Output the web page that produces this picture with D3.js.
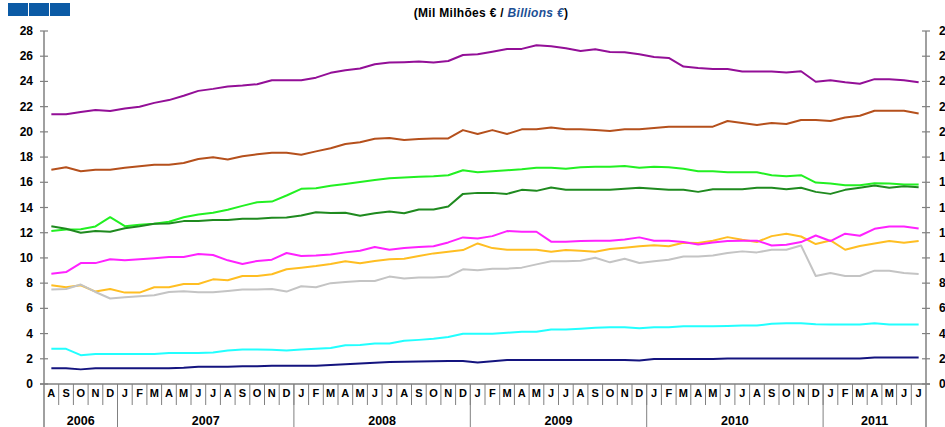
<!DOCTYPE html>
<html>
<head>
<meta charset="utf-8">
<script src="https://cdn.jsdelivr.net/npm/d3@7"></script>
<style>
  body { margin: 0; background: #fff; }
  text { font-family: "Liberation Sans", Arial, sans-serif; font-weight: bold; }
  .line { fill: none; stroke-width: 2; stroke-linejoin: round; }
</style>
</head>
<body>
<div id="chart"></div>
<script>
// month letters, Aug 2006 .. Jul 2011
var months = ["A","S","O","N","D",
  "J","F","M","A","M","J","J","A","S","O","N","D",
  "J","F","M","A","M","J","J","A","S","O","N","D",
  "J","F","M","A","M","J","J","A","S","O","N","D",
  "J","F","M","A","M","J","J","A","S","O","N","D",
  "J","F","M","A","M","J","J"];
var years = ["2006", "2007", "2008", "2009", "2010", "2011"];
var yearMonths = [5, 12, 12, 12, 12, 7];
var yTicks = [0, 2, 4, 6, 8, 10, 12, 14, 16, 18, 20, 22, 24, 26, 28];

// series values (billions of euro)
var purple = [21.4, 21.4, 21.57, 21.73, 21.65,
  21.86, 21.99, 22.3, 22.52, 22.86, 23.25, 23.41, 23.6, 23.67, 23.78, 24.1, 24.1,
  24.1, 24.3, 24.68, 24.89, 25.02, 25.36, 25.5, 25.53, 25.58, 25.5, 25.62, 26.1,
  26.15, 26.36, 26.58, 26.58, 26.87, 26.79, 26.63, 26.42, 26.55, 26.34, 26.31, 26.15,
  25.94, 25.86, 25.18, 25.07, 24.99, 24.99, 24.78, 24.78, 24.78, 24.7, 24.81, 23.97,
  24.1, 23.94, 23.81, 24.18, 24.18, 24.1, 23.94];
var brown = [17.0, 17.19, 16.87, 17.0, 17.0,
  17.16, 17.27, 17.4, 17.4, 17.53, 17.85, 17.98, 17.8, 18.06, 18.22, 18.35, 18.35,
  18.19, 18.45, 18.7, 19.04, 19.17, 19.46, 19.51, 19.35, 19.43, 19.48, 19.48, 20.14,
  19.83, 20.14, 19.83, 20.2, 20.2, 20.35, 20.2, 20.2, 20.14, 20.07, 20.2, 20.2,
  20.3, 20.41, 20.41, 20.41, 20.41, 20.86, 20.7, 20.54, 20.7, 20.62, 20.94, 20.94,
  20.86, 21.14, 21.28, 21.67, 21.67, 21.67, 21.46];
var lime = [12.13, 12.26, 12.28, 12.5, 13.23,
  12.52, 12.63, 12.71, 12.87, 13.23, 13.45, 13.58, 13.82, 14.13, 14.42, 14.47, 14.95,
  15.48, 15.53, 15.72, 15.87, 16.03, 16.19, 16.32, 16.37, 16.43, 16.48, 16.56, 16.95,
  16.8, 16.87, 16.95, 17.03, 17.16, 17.16, 17.08, 17.19, 17.24, 17.24, 17.3, 17.16,
  17.24, 17.19, 17.08, 16.87, 16.87, 16.8, 16.8, 16.8, 16.56, 16.48, 16.56, 15.98,
  15.9, 15.76, 15.76, 15.92, 15.9, 15.82, 15.82];
var darkGreen = [12.52, 12.31, 12.0, 12.13, 12.08,
  12.36, 12.52, 12.71, 12.73, 12.92, 12.92, 13.0, 13.0, 13.1, 13.1, 13.18, 13.21,
  13.37, 13.63, 13.57, 13.58, 13.34, 13.55, 13.68, 13.55, 13.84, 13.84, 14.08, 15.08,
  15.16, 15.16, 15.08, 15.4, 15.32, 15.58, 15.4, 15.4, 15.4, 15.4, 15.48, 15.56,
  15.48, 15.4, 15.4, 15.24, 15.45, 15.45, 15.45, 15.56, 15.56, 15.45, 15.56, 15.24,
  15.08, 15.4, 15.56, 15.74, 15.56, 15.69, 15.61];
var magenta = [8.75, 8.88, 9.59, 9.59, 9.89,
  9.81, 9.89, 9.97, 10.07, 10.07, 10.31, 10.23, 9.81, 9.52, 9.76, 9.86, 10.39,
  10.15, 10.2, 10.28, 10.44, 10.57, 10.86, 10.65, 10.78, 10.86, 10.92, 11.23, 11.63,
  11.55, 11.73, 12.13, 12.08, 12.08, 11.29, 11.29, 11.34, 11.37, 11.37, 11.47, 11.63,
  11.37, 11.37, 11.26, 11.07, 11.23, 11.34, 11.37, 11.37, 10.99, 11.05, 11.26, 11.78,
  11.34, 11.92, 11.76, 12.31, 12.5, 12.5, 12.34];
var orange = [7.83, 7.67, 7.83, 7.33, 7.54,
  7.25, 7.25, 7.67, 7.67, 7.93, 7.93, 8.3, 8.23, 8.57, 8.57, 8.7, 9.1,
  9.23, 9.36, 9.52, 9.73, 9.57, 9.75, 9.89, 9.94, 10.15, 10.36, 10.49, 10.62,
  11.15, 10.78, 10.65, 10.65, 10.65, 10.49, 10.62, 10.57, 10.49, 10.7, 10.81, 10.92,
  11.0, 10.92, 11.2, 11.18, 11.37, 11.65, 11.44, 11.26, 11.73, 11.92, 11.7, 11.1,
  11.39, 10.65, 10.94, 11.15, 11.34, 11.2, 11.34];
var gray = [7.49, 7.54, 7.89, 7.3, 6.78,
  6.88, 6.96, 7.04, 7.3, 7.35, 7.28, 7.28, 7.38, 7.49, 7.49, 7.54, 7.33,
  7.75, 7.67, 8.0, 8.09, 8.17, 8.17, 8.52, 8.36, 8.44, 8.44, 8.52, 9.1,
  9.02, 9.15, 9.15, 9.23, 9.49, 9.73, 9.73, 9.78, 10.02, 9.65, 9.94, 9.6,
  9.73, 9.86, 10.12, 10.12, 10.2, 10.39, 10.52, 10.44, 10.65, 10.65, 10.99, 8.57,
  8.8, 8.57, 8.57, 8.99, 8.99, 8.8, 8.72];
var cyan = [2.79, 2.79, 2.29, 2.37, 2.37,
  2.37, 2.37, 2.37, 2.45, 2.45, 2.45, 2.5, 2.66, 2.74, 2.74, 2.71, 2.66,
  2.74, 2.79, 2.85, 3.08, 3.1, 3.22, 3.22, 3.43, 3.5, 3.58, 3.72, 3.98,
  3.98, 3.98, 4.06, 4.14, 4.14, 4.32, 4.32, 4.38, 4.46, 4.51, 4.51, 4.43,
  4.51, 4.51, 4.59, 4.59, 4.59, 4.61, 4.64, 4.64, 4.77, 4.82, 4.82, 4.74,
  4.72, 4.72, 4.72, 4.82, 4.72, 4.72, 4.72];
var navy = [1.24, 1.24, 1.16, 1.24, 1.24,
  1.24, 1.24, 1.24, 1.24, 1.29, 1.37, 1.37, 1.37, 1.4, 1.4, 1.45, 1.45,
  1.45, 1.45, 1.5, 1.56, 1.63, 1.68, 1.74, 1.76, 1.79, 1.8, 1.82, 1.82,
  1.71, 1.8, 1.9, 1.9, 1.9, 1.9, 1.9, 1.9, 1.9, 1.9, 1.9, 1.87,
  1.98, 1.98, 1.98, 1.98, 1.98, 2.03, 2.03, 2.03, 2.03, 2.03, 2.03, 2.03,
  2.03, 2.03, 2.03, 2.11, 2.11, 2.11, 2.11];

var series = [
  { values: purple, color: "#930f97" },
  { values: brown, color: "#b5501c" },
  { values: lime, color: "#22f022" },
  { values: darkGreen, color: "#1f8a1f" },
  { values: orange, color: "#ffbe22" },
  { values: gray, color: "#c4c4c4" },
  { values: magenta, color: "#ff22ff" },
  { values: cyan, color: "#22ffff" },
  { values: navy, color: "#14147f" }
];

// chart box (plotTop, not "top": window.top is read-only)
var W = 945, H = 427;
var plotLeft = 44, plotRight = 926, plotTop = 31, zeroY = 384;

var svg = d3.select("#chart").append("svg")
  .attr("width", W)
  .attr("height", H);

// scales
var x = d3.scaleBand().domain(d3.range(months.length)).range([plotLeft, plotRight]);
var y = d3.scaleLinear().domain([0, 28]).range([zeroY, plotTop]);

// the three blue squares top left
svg.selectAll("rect.sq")
  .data([0, 1, 2])
  .enter().append("rect")
  .attr("x", function (d) { return 8 + d * 21; })
  .attr("y", 3)
  .attr("width", 20)
  .attr("height", 13)
  .attr("fill", "#0b5aa5");

// title
var title = svg.append("text")
  .attr("x", 491)
  .attr("y", 17)
  .attr("text-anchor", "middle")
  .style("font-size", "12px")
  .style("letter-spacing", "0.3px");
title.append("tspan").attr("fill", "#000").text("(Mil Milhões € / ");
title.append("tspan").attr("fill", "#1c4f94").style("font-style", "italic").text("Billions €");
title.append("tspan").attr("fill", "#000").text(")");

// y axes, left and right
var axisColor = "#808080";
[plotLeft, plotRight].forEach(function (ax) {
  svg.append("line")
    .attr("x1", ax).attr("x2", ax)
    .attr("y1", y(28)).attr("y2", H)
    .attr("stroke", axisColor).attr("stroke-width", 1.5);
  svg.selectAll(null)
    .data(yTicks)
    .enter().append("line")
    .attr("x1", ax - 4).attr("x2", ax + 4)
    .attr("y1", function (d) { return y(d); })
    .attr("y2", function (d) { return y(d); })
    .attr("stroke", axisColor).attr("stroke-width", 1.2);
});

svg.selectAll("text.yl")
  .data(yTicks)
  .enter().append("text")
  .attr("class", "yl")
  .attr("x", 33)
  .attr("y", function (d) { return y(d) + 4; })
  .attr("text-anchor", "end")
  .style("font-size", "12px")
  .text(function (d) { return d; });

svg.selectAll("text.yr")
  .data(yTicks)
  .enter().append("text")
  .attr("class", "yr")
  .attr("x", 939)
  .attr("y", function (d) { return y(d) + 4; })
  .style("font-size", "12px")
  .text(function (d) { return d; });

// x axis line
svg.append("line")
  .attr("x1", plotLeft - 4).attr("x2", plotRight + 4)
  .attr("y1", zeroY).attr("y2", zeroY)
  .attr("stroke", axisColor).attr("stroke-width", 1.5);

// month separators and letters
svg.selectAll("line.ms")
  .data(d3.range(1, months.length))
  .enter().append("line")
  .attr("x1", function (d) { return x(d); })
  .attr("x2", function (d) { return x(d); })
  .attr("y1", zeroY).attr("y2", 405)
  .attr("stroke", axisColor).attr("stroke-width", 1);

svg.selectAll("text.month")
  .data(months)
  .enter().append("text")
  .attr("class", "month")
  .attr("x", function (d, i) { return x(i) + x.bandwidth() / 2; })
  .attr("y", 397)
  .attr("text-anchor", "middle")
  .style("font-size", "11px")
  .text(function (d) { return d; });

// year separators and labels
var start = 0;
years.forEach(function (yr, k) {
  var n = yearMonths[k];
  if (k > 0) {
    svg.append("line")
      .attr("x1", x(start)).attr("x2", x(start))
      .attr("y1", zeroY).attr("y2", H)
      .attr("stroke", axisColor).attr("stroke-width", 1);
  }
  var x0 = x(start), x1 = start + n < months.length ? x(start + n) : plotRight;
  svg.append("text")
    .attr("x", (x0 + x1) / 2)
    .attr("y", 425)
    .attr("text-anchor", "middle")
    .style("font-size", "12.5px")
    .text(yr);
  start += n;
});

// the lines
var valueline = d3.line()
  .x(function (d, i) { return x(i) + x.bandwidth() / 2; })
  .y(function (d) { return y(d); });

svg.selectAll("path.line")
  .data(series)
  .enter().append("path")
  .attr("class", "line")
  .style("stroke", function (d) { return d.color; })
  .attr("d", function (d) { return valueline(d.values); });
</script>
</body>
</html>
